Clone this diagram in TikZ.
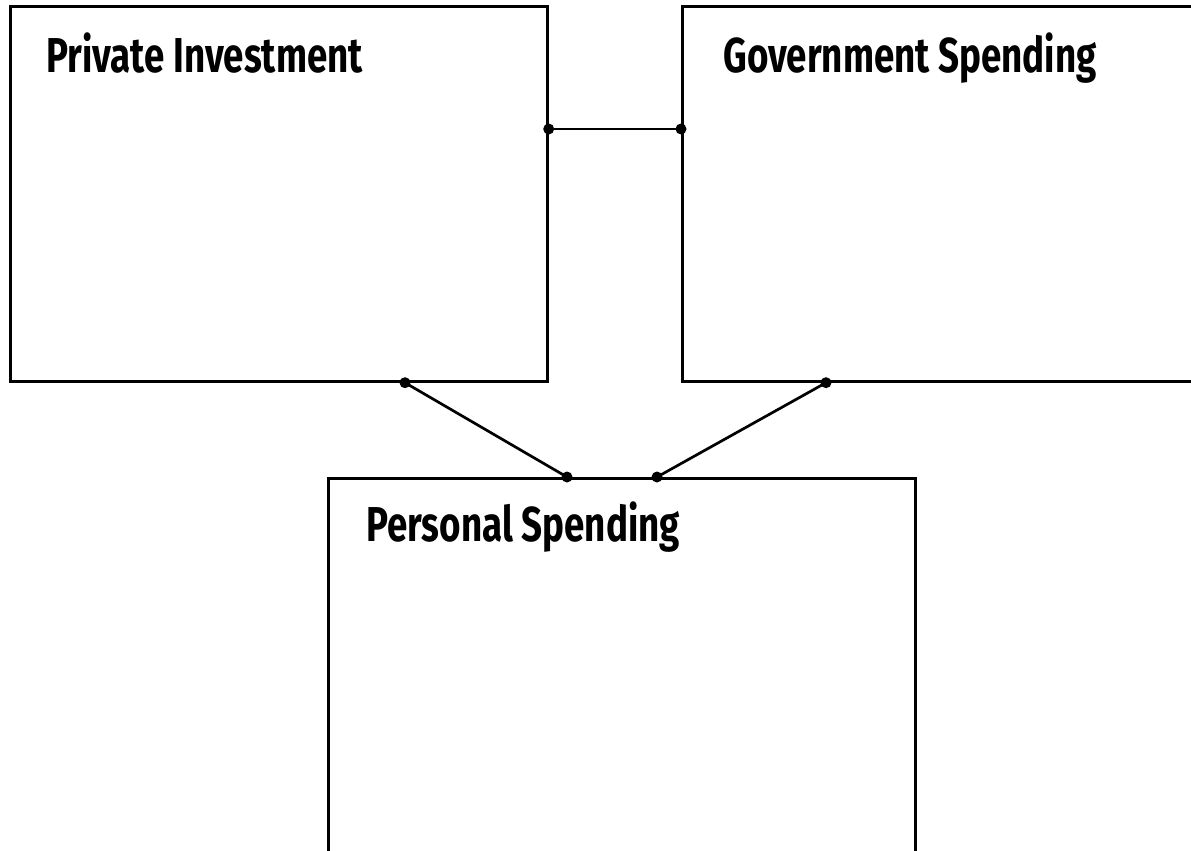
\documentclass[tikz,border=0pt]{standalone}
\usepackage{fontspec}
\setmainfont{Fira Sans}[FakeStretch=0.75]
\usetikzlibrary{positioning}

\begin{document}
\begin{tikzpicture}[x=1pt,y=-1pt,line width=2.7pt,
  box/.style={draw,rectangle,anchor=north west,inner sep=0pt},
  title/.style={anchor=base west,inner sep=0pt,font=\fontsize{49}{58}\selectfont\bfseries},
  dot/.style={circle,fill,inner sep=0pt,minimum size=11pt}]

\useasboundingbox (0,0) rectangle (1191,851);
\clip (0,0) rectangle (1191,851);

\node[box,minimum width=537pt,minimum height=375pt](priv) at (9,5){};
\node[box,minimum width=520pt,minimum height=375pt](gov) at (681,5){};
\node[box,minimum width=587pt,minimum height=390pt](pers) at (327,477){};

\node[title](privt) at (45,72){Private Investment};
\node[title](govt) at (722,72){Government Spending};
\node[title](perst) at (365,541){Personal Spending};

% ends of the links on the box borders
\coordinate (p1) at ([yshift=-124pt]priv.north east);
\coordinate (g1) at ([yshift=-124pt]gov.north west);
\coordinate (p2) at ([xshift=396pt]priv.south west);
\coordinate (g2) at ([xshift=145pt]gov.south west);
\coordinate (s1) at ([xshift=240pt]pers.north west);
\coordinate (s2) at ([xshift=330pt]pers.north west);

\path(p1)edge(g1)
	(p2)edge(s1)
	(g2)edge(s2);

\foreach \c in {p1,g1,p2,g2,s1,s2}
	\node[dot] at (\c){};

\end{tikzpicture}
\end{document}
